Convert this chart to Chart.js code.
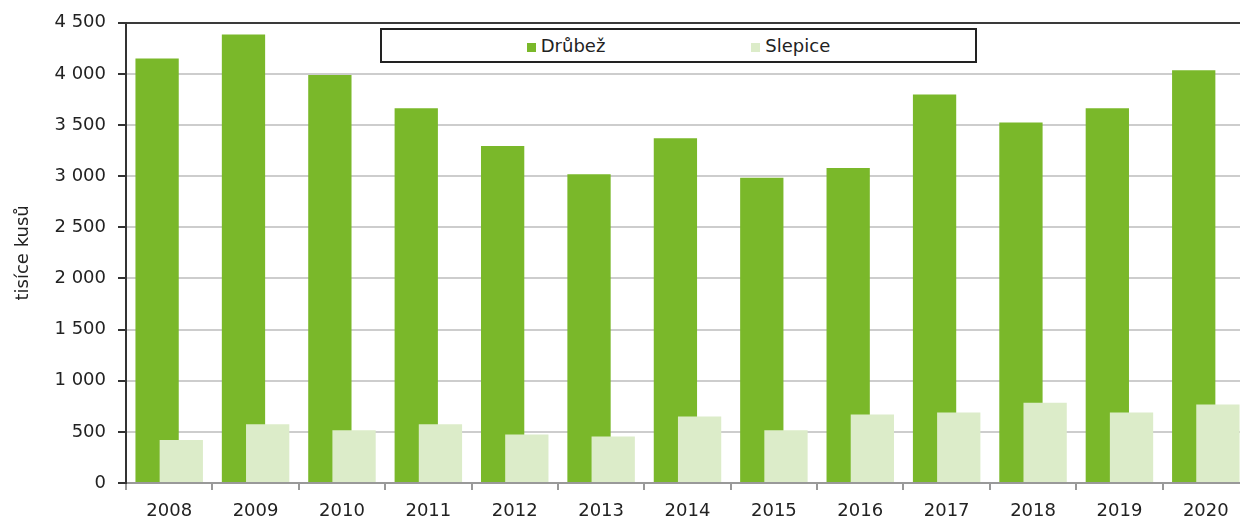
<!DOCTYPE html>
<html lang="cs">
<head>
<meta charset="utf-8">
<title>Drůbež a slepice</title>
<script src="https://cdn.jsdelivr.net/npm/chart.js@4/dist/chart.umd.min.js"></script>
<style>
  html, body { margin: 0; padding: 0; background: #fff; overflow: hidden; }
  #wrap { position: relative; width: 1250px; height: 519px; }
  #legend {
    position: absolute; left: 380px; top: 28px; width: 597px; height: 35px;
    box-sizing: border-box; border: 2px solid #222; background: #fff;
    display: flex; align-items: center; justify-content: center; gap: 146px;
    font-family: "DejaVu Sans", sans-serif; font-size: 18px; color: #222;
  }
  #legend .item { display: flex; align-items: center; }
  #legend .mark { width: 9px; height: 9px; margin-right: 5px; margin-top: 3px; }
</style>
</head>
<body>
<div id="wrap">
  <canvas id="chart"></canvas>
  <div id="legend"></div>
</div>
<script>
const years = ['2008', '2009', '2010', '2011', '2012', '2013', '2014', '2015', '2016', '2017', '2018', '2019', '2020'];
const drubez = [4150, 4385, 3990, 3665, 3295, 3020, 3370, 2985, 3080, 3800, 3525, 3665, 4035];
const slepice = [420, 575, 515, 575, 475, 455, 650, 515, 670, 690, 785, 690, 768];
const yTicks = [0, 500, 1000, 1500, 2000, 2500, 3000, 3500, 4000, 4500];
const seriesNames = ['Drůbež', 'Slepice'];
const seriesColors = ['#7ab82a', '#dcecc9'];

Chart.defaults.font.family = '"DejaVu Sans", sans-serif';
Chart.defaults.color = '#222';

// thousands separated by a space, e.g. 4 500
const fmt = v => String(v).replace(/\B(?=(\d{3})+(?!\d))/g, ' ');

// Chart.js paints dataset 0 last; here Slepice must sit on top of Drůbež
const drawInIndexOrder = {
  id: 'drawInIndexOrder',
  beforeDatasetsDraw(chart) {
    chart.data.datasets.forEach((ds, i) => {
      const meta = chart.getDatasetMeta(i);
      if (meta.visible) meta.controller.draw();
    });
    return false;
  }
};

const ctx = document.getElementById('chart').getContext('2d');
const chart = new Chart(ctx, {
  type: 'bar',
  data: {
    labels: years,
    datasets: [
      { label: seriesNames[0], data: drubez, backgroundColor: seriesColors[0] },
      { label: seriesNames[1], data: slepice, backgroundColor: seriesColors[1] }
    ]
  },
  options: {
    responsive: true,
    maintainAspectRatio: false,
    animation: false,
    categoryPercentage: 0.56,
    barPercentage: 1.79,
    layout: { padding: { top: 18, right: 1, bottom: 0, left: 0 } },
    plugins: {
      legend: { display: false },
      tooltip: { enabled: false }
    },
    scales: {
      x: {
        offset: true,
        grid: {
          display: true,
          offset: true,
          drawOnChartArea: false,
          drawTicks: true,
          tickLength: 7,
          tickColor: '#999',
          lineWidth: 2
        },
        border: { color: '#999', width: 2 },
        ticks: { font: { size: 18 }, color: '#222', padding: 11, maxRotation: 0 },
        afterFit: scale => { scale.height = 36; }
      },
      y: {
        min: 0,
        max: 4500,
        afterBuildTicks: scale => { scale.ticks = yTicks.map(v => ({ value: v })); },
        grid: {
          color: c => (c.tick && c.tick.value === 4500) ? '#3a3a3a' : (c.tick && c.tick.value === 0 ? '#999' : '#cdcdcd'),
          lineWidth: 2,
          tickLength: 8,
          tickColor: '#333'
        },
        border: { color: '#333', width: 2 },
        ticks: { font: { size: 18 }, color: '#222', padding: 12, callback: v => fmt(v) },
        title: {
          display: true,
          text: 'tisíce kusů',
          font: { size: 18 },
          color: '#222',
          padding: { top: 13, bottom: 0 }
        },
        afterFit: scale => { scale.width = 126; }
      }
    }
  },
  plugins: [drawInIndexOrder]
});

// legend built from the same series names and colours
const legendEl = document.getElementById('legend');
chart.data.datasets.forEach(ds => {
  const item = document.createElement('div');
  item.className = 'item';
  item.innerHTML = `<span class="mark" style="background:${ds.backgroundColor}"></span><span>${ds.label}</span>`;
  legendEl.appendChild(item);
});
</script>
</body>
</html>
